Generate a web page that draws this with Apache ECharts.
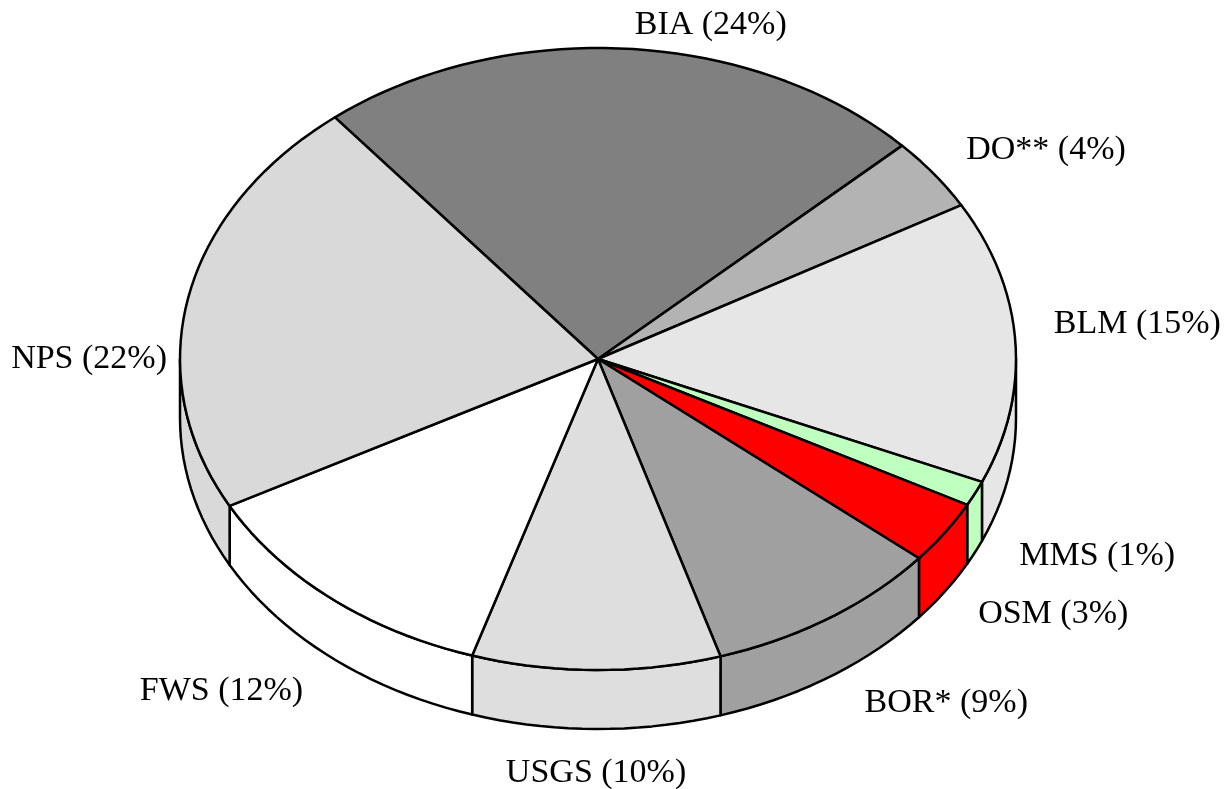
<!DOCTYPE html>
<html>
<head>
<meta charset="utf-8">
<script src="https://cdn.jsdelivr.net/npm/echarts/dist/echarts.min.js"></script>
<style>
  html, body { margin: 0; padding: 0; background: #fff; }
  #chart { width: 1230px; height: 789px; }
</style>
</head>
<body>
<div id="chart"></div>
<script>
// data
var agencies = ['BIA', 'DO**', 'BLM', 'MMS', 'OSM', 'BOR*', 'USGS', 'FWS', 'NPS'];
var shares = [23.8, 3.8, 14.7, 1.3, 3.3, 9.2, 9.6, 12.3, 22.0];
var fills = ['#808080', '#b3b3b3', '#e6e6e6', '#bfffbf', '#ff0000', '#a0a0a0', '#dedede', '#ffffff', '#d9d9d9'];

// layout
var cx = 598, cy = 359, rx = 418, ry = 311, depth = 59;
var startDeg = 129;
var labelGap = [34, 40, 40, 40, 40, 40, 44, 44, 13];
var labelTurn = [-10.6, 0, 2.5, 2.5, 0, 2, 0, 0, 11.4];   // small nudges, degrees

var total = shares.reduce(function(a, b) { return a + b; }, 0);
var bounds = [];
var acc = startDeg;
shares.forEach(function(v) {
	var span = v / total * 360;
	bounds.push([acc, acc - span]);
	acc -= span;
});

function pt(deg, dy) {
	var r = deg * Math.PI / 180;
	return [cx + rx * Math.cos(r), cy - ry * Math.sin(r) + (dy || 0)];
}

function arc(a, b, dy) {
	var n = Math.max(2, Math.ceil(Math.abs(a - b) / 2));
	var pts = [];
	for (var i = 0; i <= n; i++) {
		pts.push(pt(a + (b - a) * i / n, dy));
	}
	return pts;
}

function renderSlice(params, api) {
	var i = params.dataIndex;
	var s = bounds[i][0], e = bounds[i][1];
	var lineStyle = { fill: fills[i], stroke: '#000', lineWidth: 2.5, lineJoin: 'round' };
	var children = [];

	// side wall, only the front (lower) half is visible
	[-1, 0, 1].forEach(function(k) {
		var lo = -180 + 360 * k, hi = 360 * k;
		var a = Math.min(s, hi), b = Math.max(e, lo);
		if (a > b) {
			var side = arc(a, b, 0).concat(arc(b, a, depth));
			children.push({ type: 'polygon', shape: { points: side }, style: lineStyle });
		}
	});

	// top face
	var top = [[cx, cy]].concat(arc(s, e, 0));
	children.push({ type: 'polygon', shape: { points: top }, style: lineStyle });

	// label
	var mid = (s + e) / 2 + labelTurn[i];
	var r = mid * Math.PI / 180;
	var c = Math.cos(r), sn = Math.sin(r);
	var lx = cx + (rx + labelGap[i]) * c;
	var ly = cy - (ry + labelGap[i]) * sn + (sn < 0 ? depth : 0);
	children.push({
		type: 'text',
		style: {
			x: lx, y: ly,
			text: agencies[i] + ' (' + Math.round(api.value(0)) + '%)',
			font: '34px "Liberation Serif"',
			fill: '#000',
			align: c > 0.25 ? 'left' : (c < -0.25 ? 'right' : 'center'),
			verticalAlign: 'middle'
		}
	});

	return { type: 'group', children: children };
}

var chart = echarts.init(document.getElementById('chart'));
chart.setOption({
	animation: false,
	backgroundColor: '#fff',
	series: [{
		type: 'custom',
		coordinateSystem: 'none',
		silent: true,
		renderItem: renderSlice,
		data: shares.map(function(v) { return [v]; })
	}]
});
</script>
</body>
</html>
